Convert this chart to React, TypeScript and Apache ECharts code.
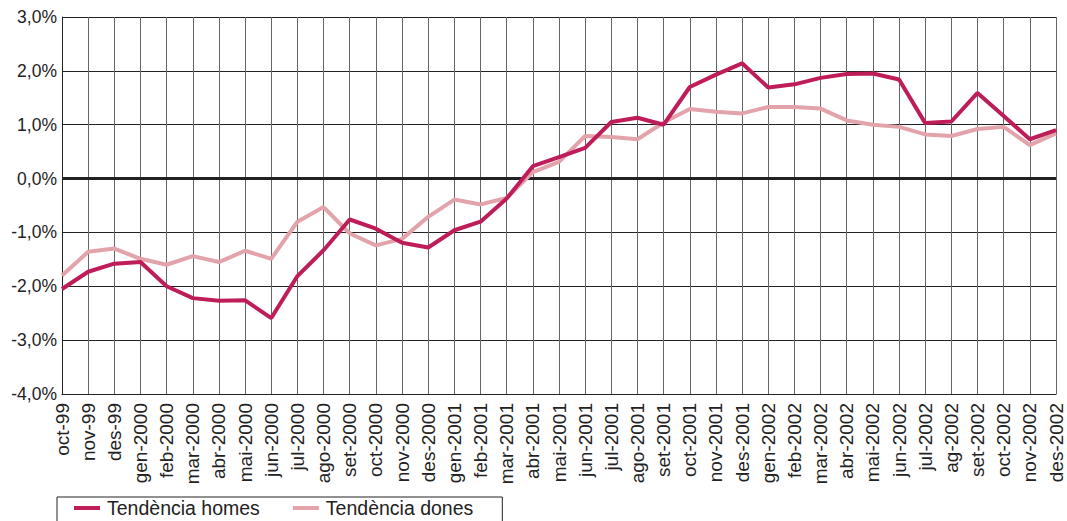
import React, { useEffect, useRef } from "react";
import * as echarts from "echarts";

const categories = [
  "oct-99", "nov-99", "des-99", "gen-2000", "feb-2000", "mar-2000", "abr-2000", "mai-2000",
  "jun-2000", "jul-2000", "ago-2000", "set-2000", "oct-2000", "nov-2000", "des-2000",
  "gen-2001", "feb-2001", "mar-2001", "abr-2001", "mai-2001", "jun-2001", "jul-2001",
  "ago-2001", "set-2001", "oct-2001", "nov-2001", "des-2001", "gen-2002", "feb-2002",
  "mar-2002", "abr-2002", "mai-2002", "jun-2002", "jul-2002", "ag-2002", "set-2002",
  "oct-2002", "nov-2002", "des-2002",
];

const homes = [
  -2.05, -1.73, -1.58, -1.55, -2.0, -2.22, -2.27, -2.26, -2.59, -1.81, -1.33, -0.76,
  -0.93, -1.19, -1.28, -0.96, -0.8, -0.37, 0.23, 0.4, 0.57, 1.05, 1.13, 1.0, 1.7,
  1.93, 2.14, 1.69, 1.75, 1.87, 1.94, 1.95, 1.84, 1.03, 1.06, 1.59, 1.16, 0.73, 0.9,
];

const dones = [
  -1.8, -1.36, -1.3, -1.49, -1.6, -1.44, -1.55, -1.34, -1.49, -0.8, -0.53, -1.02,
  -1.24, -1.12, -0.71, -0.39, -0.48, -0.36, 0.12, 0.31, 0.79, 0.77, 0.73, 1.04, 1.29,
  1.24, 1.21, 1.33, 1.33, 1.3, 1.08, 1.0, 0.96, 0.82, 0.79, 0.92, 0.96, 0.62, 0.84,
];

const seriesNames = ["Tendència homes", "Tendència dones"];
const colors = ["#BE1D5A", "#E3A3AA"];

export default function App() {
  const ref = useRef<HTMLDivElement>(null);
  useEffect(() => {
    document.body.style.margin = "0";
    const chart = echarts.init(ref.current!, null, { renderer: "svg" });
    const font = "'Liberation Sans', Arial, sans-serif";
    chart.setOption({
      animation: false,
      grid: { left: 62, right: 11, top: 17, bottom: 127, containLabel: false },
      legend: {
        left: 57,
        top: 497,
        padding: [1, 29, 14, 17],
        borderColor: "#222",
        borderWidth: 1,
        itemGap: 33,
        itemWidth: 26,
        itemHeight: 4,
        icon: "rect",
        textStyle: { fontFamily: font, fontSize: 19.5, color: "#222", padding: [0, 0, 0, 2] },
        data: seriesNames,
      },
      xAxis: {
        type: "category",
        data: categories,
        boundaryGap: false,
        axisLine: { onZero: false, lineStyle: { color: "#222", width: 1 } },
        axisTick: { show: false },
        axisLabel: {
          interval: 0,
          rotate: 90,
          fontFamily: font,
          fontSize: 19,
          color: "#222",
          margin: 9,
        },
        splitLine: { show: true, interval: 0, lineStyle: { color: "#666", width: 1 } },
      },
      yAxis: {
        type: "value",
        min: -4,
        max: 3,
        interval: 1,
        axisLine: { show: true, lineStyle: { color: "#222", width: 1 } },
        axisTick: { show: false },
        axisLabel: {
          fontFamily: font,
          fontSize: 17.5,
          color: "#222",
          margin: 5,
          formatter: (v: number) => v.toFixed(1).replace(".", ",") + "%",
        },
        splitLine: { show: true, lineStyle: { color: "#222", width: 1 } },
      },
      series: [
        {
          name: seriesNames[1],
          type: "line",
          data: dones,
          symbol: "none",
          lineStyle: { color: colors[1], width: 4 },
          itemStyle: { color: colors[1] },
          z: 3,
        },
        {
          name: seriesNames[0],
          type: "line",
          data: homes,
          symbol: "none",
          lineStyle: { color: colors[0], width: 4 },
          itemStyle: { color: colors[0] },
          z: 4,
          markLine: {
            silent: true,
            symbol: "none",
            label: { show: false },
            lineStyle: { color: "#222", width: 3, type: "solid" },
            data: [{ yAxis: 0 }],
            z: 2,
          },
        },
      ],
    });
    return () => chart.dispose();
  }, []);
  return <div ref={ref} style={{ width: 1067, height: 521 }} />;
}
